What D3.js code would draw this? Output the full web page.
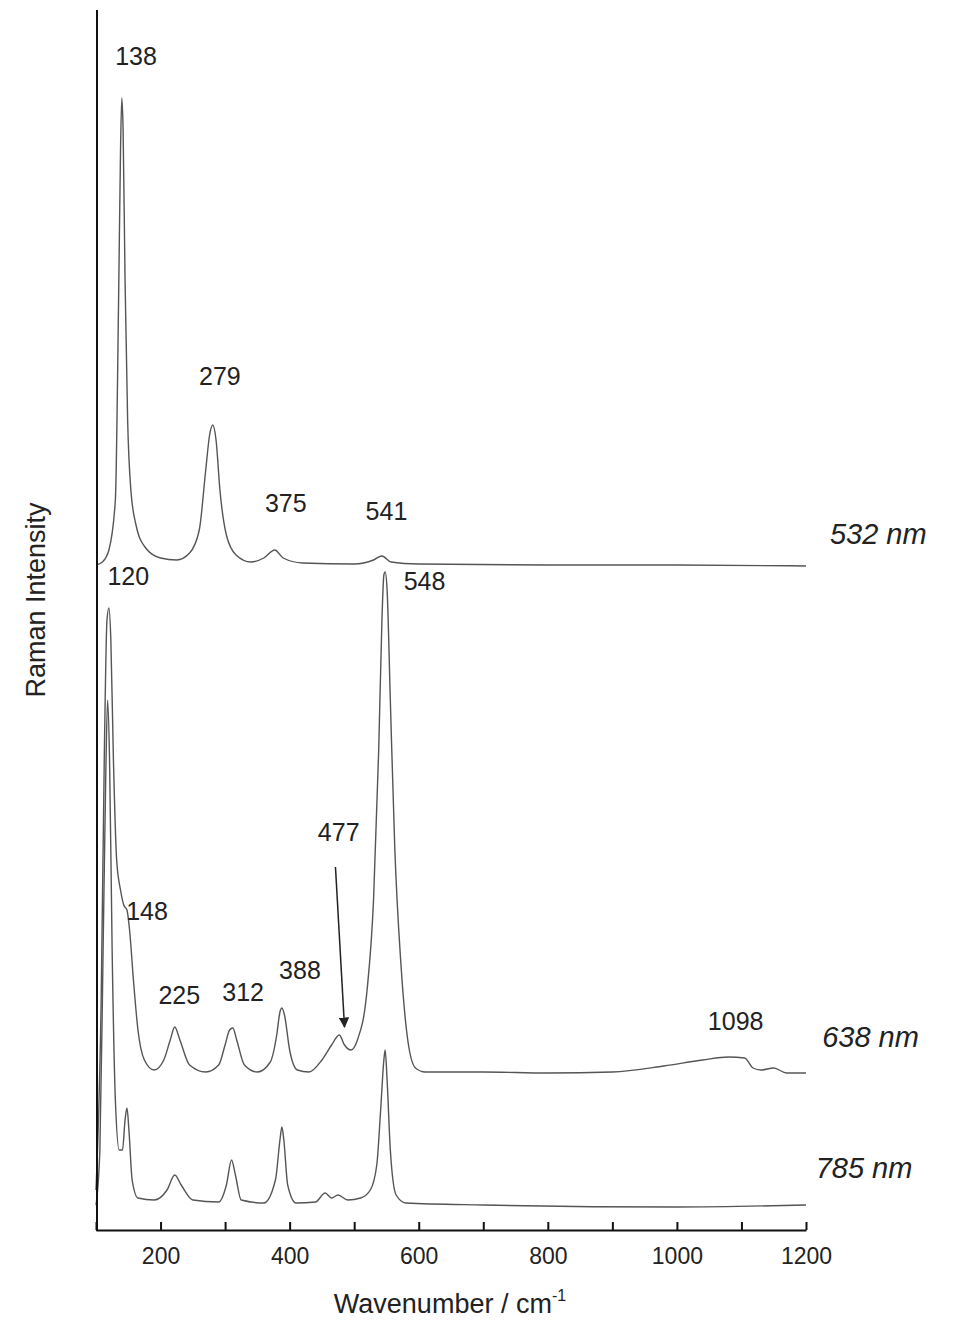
<!DOCTYPE html>
<html>
<head>
<meta charset="utf-8">
<script src="https://cdn.jsdelivr.net/npm/d3@7"></script>
<style>
  body { margin: 0; background: #fff; }
  text { font-family: "Liberation Sans", Arial, sans-serif; fill: #222; }
</style>
</head>
<body>
<div id="chart"></div>
<script>
// spectra: [wavenumber, intensity (arb.)]
const spec532 = [[100,665],[110,668],[120,680],[130,730],[135,930],[138,1080],[140,1132],[142,1100],[145,950],[149,810],[154,740],[162,705],[177,682],[200,672],[225,670],[245,677],[260,700],[270,760],[276,795],[281,805],[286,790],[292,740],[302,695],[317,675],[340,668],[360,672],[377,680],[390,672],[420,667],[500,666],[530,670],[543,674],[557,668],[600,666],[800,665],[1000,665],[1200,664]];
const spec638 = [[100,40],[108,230],[113,480],[117,610],[120,622],[123,590],[127,470],[132,370],[138,340],[143,325],[148,320],[152,300],[158,250],[165,200],[175,170],[190,160],[205,170],[215,190],[222,203],[230,190],[245,165],[270,158],[290,165],[300,185],[307,200],[312,202],[318,190],[330,165],[350,158],[370,168],[380,195],[385,218],[388,222],[392,215],[400,180],[412,160],[430,158],[450,170],[465,185],[477,195],[485,185],[495,180],[505,190],[520,240],[530,330],[538,480],[543,610],[546,655],[548,658],[551,640],[556,530],[563,380],[572,270],[583,190],[595,162],[610,158],[700,158],[800,157],[900,158],[980,164],[1040,170],[1080,173],[1105,172],[1118,162],[1130,160],[1150,162],[1170,157],[1200,157]];
const spec785 = [[100,25],[106,80],[111,280],[115,450],[118,530],[121,470],[125,280],[130,130],[136,80],[141,80],[145,110],[148,122],[151,100],[156,50],[165,32],[190,30],[210,40],[222,55],[232,45],[250,30],[290,28],[302,45],[310,70],[316,55],[325,30],[360,27],[378,50],[385,90],[388,103],[391,90],[397,45],[410,27],[440,28],[455,37],[465,32],[475,35],[490,30],[510,32],[525,40],[535,65],[541,120],[546,170],[548,180],[551,150],[556,80],[565,35],[580,27],[700,25],[1000,23],[1200,25]];
const series = [spec532, spec638, spec785];
const seriesNames = ["532 nm", "638 nm", "785 nm"];
const seriesNamePos = [[1237, 686], [1225, 183], [1215, 52]];
const peakLabels = ["138","279","375","541","120","548","148","225","312","388","477","1098"];
const peakLabelPos = [[162,1165],[292,845],[394,718],[550,710],[150,645],[609,640],[179,310],[229,226],[328,229],[416,251],[476,389],[1091,200]];
const arrowLine = [[471,363],[485,203]];
const xTicks = d3.range(100, 1201, 100);

const width = 957, height = 1321;
const svg = d3.select("#chart").append("svg").attr("width", width).attr("height", height);

const x = d3.scaleLinear().domain([100, 1200]).range([96, 806]);
const y = d3.scaleLinear().domain([0, 1220]).range([1230, 10]);

const line = d3.line().x(d => x(d[0])).y(d => y(d[1])).curve(d3.curveMonotoneX);

series.forEach(s => {
    svg.append("path").datum(s)
        .attr("fill", "none").attr("stroke", "#555").attr("stroke-width", 1.4)
        .attr("d", line);
});

// axes
svg.append("line").attr("x1", 97).attr("x2", 97).attr("y1", 10).attr("y2", 1231)
    .attr("stroke", "#111").attr("stroke-width", 2);
const xAxis = d3.axisBottom(x).tickValues(xTicks).tickSizeInner(-8).tickSizeOuter(0).tickPadding(18)
    .tickFormat(d => d % 200 === 0 ? d : "");
const gx = svg.append("g").attr("transform", "translate(0,1230)").call(xAxis);
gx.select(".domain").attr("stroke", "#111").attr("stroke-width", 2);
gx.selectAll(".tick line").attr("stroke", "#111").attr("stroke-width", 2);
gx.selectAll(".tick text").style("font-size", "23px").attr("fill", "#222");

svg.append("text").attr("x", 450).attr("y", 1313).attr("text-anchor", "middle")
    .style("font-size", "27px").text("Wavenumber / cm")
    .append("tspan").attr("dy", -12).style("font-size", "16px").text("-1");
svg.append("text").attr("transform", "translate(45,600) rotate(-90)").attr("text-anchor", "middle")
    .style("font-size", "27px").text("Raman Intensity");

// labels
peakLabels.forEach((t, i) => {
    svg.append("text").attr("x", x(peakLabelPos[i][0])).attr("y", y(peakLabelPos[i][1]))
        .attr("text-anchor", "middle").style("font-size", "25px").text(t);
});
seriesNames.forEach((t, i) => {
    svg.append("text").attr("x", x(seriesNamePos[i][0])).attr("y", y(seriesNamePos[i][1]))
        .style("font-size", "29px").style("font-style", "italic").text(t);
});

// arrow to 477 shoulder
svg.append("defs").append("marker").attr("id", "ah").attr("viewBox", "0 0 10 10")
    .attr("refX", 9).attr("refY", 5).attr("markerWidth", 7).attr("markerHeight", 7).attr("orient", "auto")
    .append("path").attr("d", "M0,0L10,5L0,10z").attr("fill", "#222");
svg.append("line")
    .attr("x1", x(arrowLine[0][0])).attr("y1", y(arrowLine[0][1]))
    .attr("x2", x(arrowLine[1][0])).attr("y2", y(arrowLine[1][1]))
    .attr("stroke", "#222").attr("stroke-width", 1.5).attr("marker-end", "url(#ah)");
</script>
</body>
</html>
